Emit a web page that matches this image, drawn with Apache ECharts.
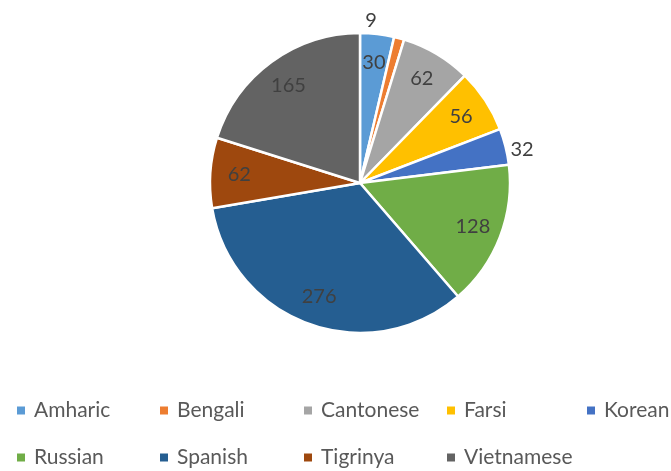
<!DOCTYPE html>
<html>
<head>
<meta charset="utf-8">
<script src="https://cdn.jsdelivr.net/npm/echarts@6/dist/echarts.min.js"></script>
<style>
  html, body { margin: 0; padding: 0; background: #fff; }
  #chart { width: 671px; height: 471px; }
</style>
</head>
<body>
<div id="chart"></div>
<script>
// languages and counts
var languages = ['Amharic', 'Bengali', 'Cantonese', 'Farsi', 'Korean', 'Russian', 'Spanish', 'Tigrinya', 'Vietnamese'];
var counts = [30, 9, 62, 56, 32, 128, 276, 62, 165];
var colors = ['#5B9BD5', '#ED7D31', '#A5A5A5', '#FFC000', '#4472C4', '#70AD47', '#255E91', '#9E480E', '#636363'];
// small slices get their label outside
var outsideLabels = ['Bengali', 'Korean'];

var font = 'Lato';
var chart = echarts.init(document.getElementById('chart'));

var pieData = languages.map(function (name, i) {
  return { name: name, value: counts[i], itemStyle: { color: colors[i] } };
});

var labelData = languages.map(function (name, i) {
  var item = { name: name, value: counts[i] };
  if (outsideLabels.indexOf(name) >= 0) {
    item.label = { show: false };
  }
  return item;
});

var outerData = languages.map(function (name, i) {
  var item = { name: name, value: counts[i] };
  if (outsideLabels.indexOf(name) < 0) {
    item.label = { show: false };
  } else if (name === 'Bengali') {
    item.label = { offset: [-40, -14] };
  } else {
    item.label = { offset: [-4, 4] };
  }
  return item;
});

// legend on a grid: 5 columns, 2 rows
var legendLefts = [15, 158, 302, 445, 585];
var legendTops = [400, 447];

var legends = languages.map(function (name, i) {
  return {
    data: [name],
    left: legendLefts[i % 5],
    top: legendTops[Math.floor(i / 5)],
    padding: 0,
    itemWidth: 10,
    itemHeight: 10,
    itemGap: 0,
    icon: 'rect',
    selectedMode: false,
    textStyle: { fontFamily: font, fontSize: 21, color: '#595959', padding: [0, 0, 0, 3] }
  };
});

chart.setOption({
  animation: false,
  color: colors,
  legend: legends,
  series: [
    {
      type: 'pie',
      center: [360, 183],
      radius: [0, 150],
      startAngle: 90,
      clockwise: true,
      silent: true,
      itemStyle: { borderColor: '#fff', borderWidth: 2.5 },
      label: { show: false },
      labelLine: { show: false },
      data: pieData
    },
    {
      // inside labels sit at about 0.8 of the radius
      type: 'pie',
      center: [360, 183],
      radius: [86, 150],
      startAngle: 90,
      silent: true,
      legendHoverLink: false,
      itemStyle: { color: 'rgba(0,0,0,0)' },
      label: { show: true, position: 'inside', formatter: '{c}', fontFamily: font, fontSize: 20, color: '#404040' },
      labelLine: { show: false },
      data: labelData
    },
    {
      type: 'pie',
      center: [360, 183],
      radius: [0, 150],
      startAngle: 90,
      silent: true,
      legendHoverLink: false,
      itemStyle: { color: 'rgba(0,0,0,0)' },
      label: { show: true, position: 'outside', formatter: '{c}', fontFamily: font, fontSize: 20, color: '#404040' },
      labelLine: { show: false, length: 4, length2: 0 },
      data: outerData
    }
  ]
});
</script>
</body>
</html>
